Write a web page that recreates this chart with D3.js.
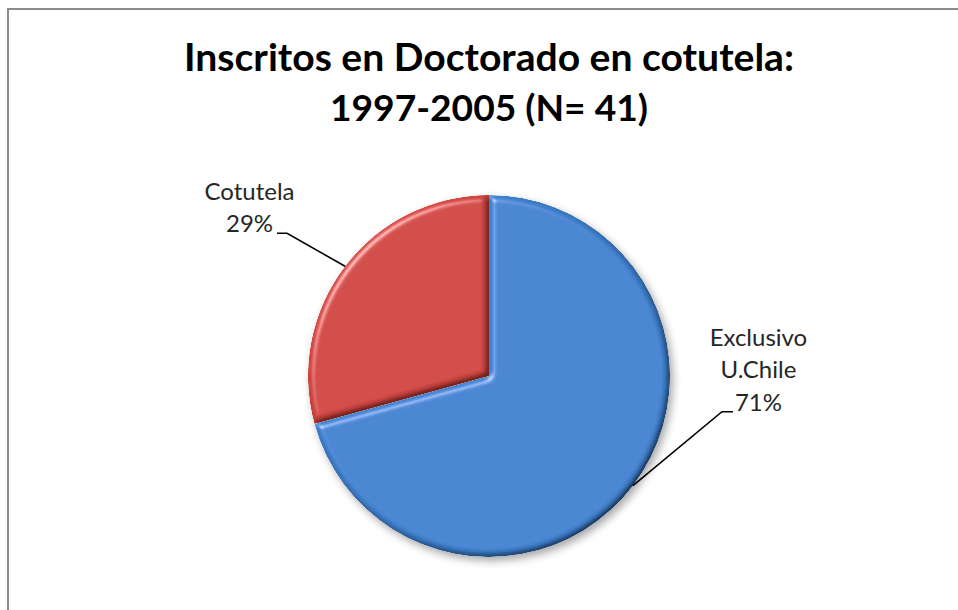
<!DOCTYPE html>
<html>
<head>
<meta charset="utf-8">
<script src="https://cdn.jsdelivr.net/npm/d3@7"></script>
<style>
  html, body { margin: 0; padding: 0; background: #fff; overflow: hidden; }
  svg { display: block; }
</style>
</head>
<body>
<script>
// chart data
var categories = ["Exclusivo U.Chile", "Cotutela"];
var labelLines = [["Exclusivo", "U.Chile"], ["Cotutela"]];
var values = [29, 12];   // N = 41
var titleLines = ["Inscritos en Doctorado en cotutela:", "1997-2005 (N= 41)"];

var width = 958,
    height = 610;

var cx = 489, cy = 376, radius = 181;

var topColors = ["#4182d0", "#cf4541"],
    bottomColors = ["#3366aa", "#a6302d"];

var svg = d3.select("body").append("svg")
    .attr("width", width)
    .attr("height", height);

var defs = svg.append("defs");

// soft shadow under the pie
var shadow = defs.append("filter").attr("id", "shadow")
    .attr("x", "-20%").attr("y", "-20%").attr("width", "140%").attr("height", "140%");
shadow.append("feDropShadow")
    .attr("dx", 3).attr("dy", 4).attr("stdDeviation", 4)
    .attr("flood-color", "#000").attr("flood-opacity", 0.35);

// bevel on each slice
var bevel = defs.append("filter").attr("id", "bevel")
    .attr("x", "-10%").attr("y", "-10%").attr("width", "120%").attr("height", "120%");
bevel.append("feGaussianBlur").attr("in", "SourceAlpha").attr("stdDeviation", 3).attr("result", "blur");
var spec = bevel.append("feSpecularLighting")
    .attr("in", "blur").attr("surfaceScale", 5)
    .attr("specularConstant", 0.7).attr("specularExponent", 30)
    .attr("lighting-color", "#ffffff").attr("result", "spec");
spec.append("feDistantLight").attr("azimuth", 225).attr("elevation", 40);
bevel.append("feComposite").attr("in", "spec").attr("in2", "SourceAlpha")
    .attr("operator", "in").attr("result", "specOut");
var diff = bevel.append("feDiffuseLighting")
    .attr("in", "blur").attr("surfaceScale", 5).attr("diffuseConstant", 1)
    .attr("lighting-color", "#ffffff").attr("result", "diff");
diff.append("feDistantLight").attr("azimuth", 225).attr("elevation", 60);
bevel.append("feComposite").attr("in", "diff").attr("in2", "SourceAlpha")
    .attr("operator", "in").attr("result", "diffOut");
bevel.append("feComposite").attr("in", "SourceGraphic").attr("in2", "diffOut")
    .attr("operator", "arithmetic").attr("k1", 1.15).attr("k2", 0).attr("k3", 0).attr("k4", 0)
    .attr("result", "lit");
bevel.append("feComposite").attr("in", "lit").attr("in2", "specOut")
    .attr("operator", "arithmetic").attr("k1", 0).attr("k2", 1).attr("k3", 0.6).attr("k4", 0)
    .attr("result", "out");
bevel.append("feComposite").attr("in", "out").attr("in2", "SourceAlpha").attr("operator", "in");

categories.forEach(function(c, i) {
    var g = defs.append("linearGradient").attr("id", "grad" + i)
        .attr("gradientUnits", "userSpaceOnUse")
        .attr("x1", cx - radius).attr("y1", cy - radius)
        .attr("x2", cx + radius * 0.4).attr("y2", cy + radius);
    g.append("stop").attr("offset", "0%").attr("stop-color", topColors[i]);
    g.append("stop").attr("offset", "100%").attr("stop-color", bottomColors[i]);
});

// chart frame
svg.append("rect")
    .attr("x", 8).attr("y", 9)
    .attr("width", width + 20).attr("height", height + 20)
    .attr("fill", "none")
    .attr("stroke", "#8c8c8c")
    .attr("stroke-width", 2);

// title
var fitText = function(sel, target) {
    var size = parseFloat(sel.attr("font-size"));
    var w = sel.node().getComputedTextLength();
    sel.attr("font-size", (size * target / w).toFixed(2));
};

var titleWidths = [610, 318];
var titleBaselines = [71, 121];
titleLines.forEach(function(t, i) {
    var tt = svg.append("text")
        .attr("x", cx)
        .attr("y", titleBaselines[i])
        .attr("text-anchor", "middle")
        .attr("font-family", "Lato, 'Open Sans', sans-serif")
        .attr("font-weight", "bold")
        .attr("font-size", 36)
        .attr("fill", "#000")
        .text(t);
    fitText(tt, titleWidths[i]);
});

// pie
var pie = d3.pie().sort(null).value(function(d) { return d; });
var arcs = pie(values);
var total = d3.sum(values);

var arc = d3.arc().innerRadius(0).outerRadius(radius);

var pieG = svg.append("g")
    .attr("transform", "translate(" + cx + "," + cy + ")")
    .attr("filter", "url(#shadow)");

var sliceG = pieG.append("g")
    .attr("transform", "translate(" + (-cx) + "," + (-cy) + ")");

sliceG.selectAll("path")
    .data(arcs)
    .enter()
    .append("path")
    .attr("transform", "translate(" + cx + "," + cy + ")")
    .attr("d", arc)
    .attr("fill", function(d, i) { return "url(#grad" + i + ")"; })
    .attr("filter", "url(#bevel)");

// labels with leader lines
var labelOffsets = [[89, -74], [-58, -33]];   // elbow relative to slice edge
var elbowLen = [11, -10];
var labelFont = "Lato, 'Open Sans', sans-serif";

arcs.forEach(function(d, i) {
    var mid = (d.startAngle + d.endAngle) / 2;
    var ex = cx + radius * Math.sin(mid),
        ey = cy - radius * Math.cos(mid);
    var bx = ex + labelOffsets[i][0],
        by = ey + labelOffsets[i][1];
    var tx = bx + elbowLen[i];

    svg.append("path")
        .attr("d", "M" + ex + "," + ey + "L" + bx + "," + by + "L" + tx + "," + by)
        .attr("fill", "none")
        .attr("stroke", "#000")
        .attr("stroke-width", 1.6);

    var pct = Math.round(values[i] / total * 100) + "%";
    var lines = labelLines[i].concat([pct]);
    var lineH = 32.5;
    var pctW = 47;
    var anchorX = i === 0 ? tx + 2 + pctW / 2 : tx - 4 - pctW / 2;
    var baseY = by - 1;
    var txt = svg.append("text")
        .attr("text-anchor", "middle")
        .attr("font-family", labelFont)
        .attr("font-size", 24)
        .attr("fill", "#262626");
    lines.forEach(function(l, j) {
        txt.append("tspan")
            .attr("x", anchorX)
            .attr("y", baseY - (lines.length - 1 - j) * lineH)
            .text(l);
    });
});
</script>
</body>
</html>
